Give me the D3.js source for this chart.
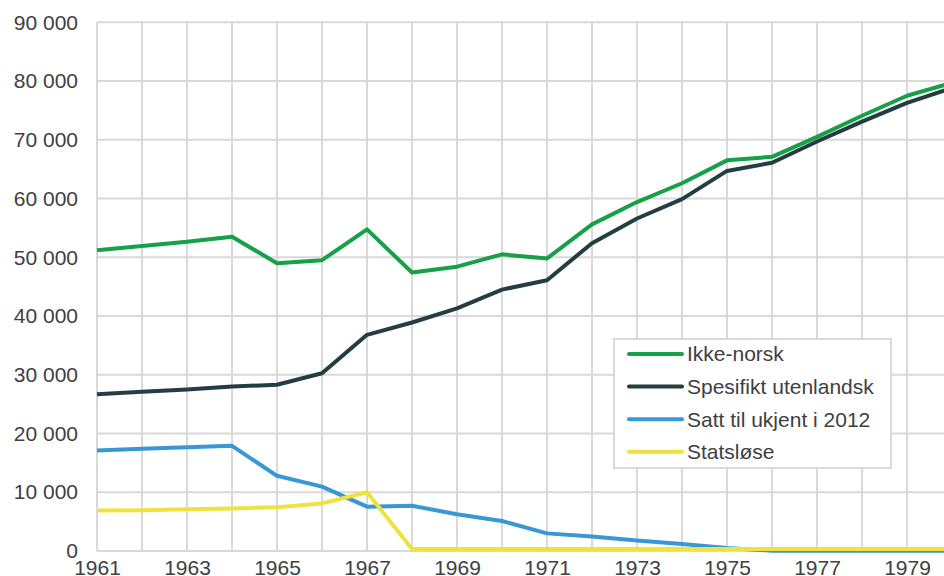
<!DOCTYPE html>
<html>
<head>
<meta charset="utf-8">
<script src="https://cdn.jsdelivr.net/npm/d3@7"></script>
<style>
  body { margin: 0; background: #fff; }
  svg { display: block; font-family: "Liberation Sans", Arial, sans-serif; }
</style>
</head>
<body>
<svg width="944" height="576"></svg>
<script>
// data
var years = [1961, 1962, 1963, 1964, 1965, 1966, 1967, 1968, 1969, 1970,
             1971, 1972, 1973, 1974, 1975, 1976, 1977, 1978, 1979, 1980];
var ikkeNorsk = [51200, 51900, 52650, 53500, 49000, 49500, 54750, 47400, 48400, 50500,
                 49800, 55600, 59400, 62600, 66500, 67100, 70500, 74100, 77500, 79700];
var spesifikt = [26700, 27100, 27500, 28000, 28300, 30250, 36800, 38900, 41300, 44500,
                 46100, 52400, 56600, 59900, 64700, 66100, 69700, 73100, 76300, 78800];
var ukjent = [17100, 17400, 17650, 17900, 12800, 10950, 7550, 7700, 6250, 5100,
              3000, 2450, 1800, 1200, 500, 50, 50, 50, 50, 50];
var statslose = [6900, 6950, 7100, 7250, 7450, 8100, 10000, 350, 350, 350,
                 350, 350, 350, 350, 350, 350, 350, 350, 350, 350];
var seriesNames = ["Ikke-norsk", "Spesifikt utenlandsk", "Satt til ukjent i 2012", "Statsløse"];
var seriesColors = ["#16a047", "#233d42", "#3898d6", "#f0e23e"];
var yTicks = [0, 10000, 20000, 30000, 40000, 50000, 60000, 70000, 80000, 90000];
var xTicks = [1961, 1963, 1965, 1967, 1969, 1971, 1973, 1975, 1977, 1979];

var allSeries = [ikkeNorsk, spesifikt, ukjent, statslose];

var svg = d3.select("svg");

var x = d3.scaleLinear().domain([1961, 1980]).range([97, 952]);
var y = d3.scaleLinear().domain([0, 90000]).range([551, 22.3]);

var fmt = function(v) { return d3.format(",")(v).replace(/,/g, " "); };

// grid
var grid = svg.append("g");
grid.selectAll("line.h")
  .data(yTicks)
  .enter()
  .append("line")
  .attr("x1", x(1961)).attr("x2", x(1980))
  .attr("y1", function(d) { return y(d); })
  .attr("y2", function(d) { return y(d); })
  .attr("stroke", "#d9d9d9")
  .attr("stroke-width", 2);
grid.selectAll("line.v")
  .data(years)
  .enter()
  .append("line")
  .attr("x1", function(d) { return x(d); })
  .attr("x2", function(d) { return x(d); })
  .attr("y1", y(90000)).attr("y2", y(0))
  .attr("stroke", "#d9d9d9")
  .attr("stroke-width", 2);

// axes
var yAxis = svg.append("g")
  .attr("transform", "translate(97,0)")
  .call(d3.axisLeft(y).tickValues(yTicks).tickFormat(fmt).tickSize(0).tickPadding(19));
yAxis.select(".domain").remove();
yAxis.selectAll("text")
  .attr("fill", "#404040")
  .style("font-size", "21px")
  .style("font-family", "Liberation Sans, Arial, sans-serif");

var xAxis = svg.append("g")
  .attr("transform", "translate(0," + y(0) + ")")
  .call(d3.axisBottom(x).tickValues(xTicks).tickFormat(d3.format("d")).tickSize(0).tickPadding(9));
xAxis.select(".domain").remove();
xAxis.selectAll("text")
  .attr("fill", "#404040")
  .style("font-size", "21px")
  .style("font-family", "Liberation Sans, Arial, sans-serif");

// lines
var line = d3.line()
  .x(function(d, i) { return x(years[i]); })
  .y(function(d) { return y(d); });

svg.append("g")
  .selectAll("path")
  .data(allSeries)
  .enter()
  .append("path")
  .attr("d", line)
  .attr("fill", "none")
  .attr("stroke", function(d, i) { return seriesColors[i]; })
  .attr("stroke-width", 4)
  .attr("stroke-linejoin", "round");

// legend
var legend = svg.append("g").attr("transform", "translate(614,339)");
legend.append("rect")
  .attr("width", 277).attr("height", 129)
  .attr("fill", "#fff")
  .attr("stroke", "#d9d9d9")
  .attr("stroke-width", 2);
var items = legend.selectAll("g.item")
  .data(seriesNames)
  .enter()
  .append("g")
  .attr("transform", function(d, i) { return "translate(0," + (15 + i * 32.6) + ")"; });
items.append("line")
  .attr("x1", 15).attr("x2", 68)
  .attr("stroke", function(d, i) { return seriesColors[i]; })
  .attr("stroke-width", 4)
  .attr("stroke-linecap", "round");
items.append("text")
  .attr("x", 73)
  .attr("dy", "0.35em")
  .attr("fill", "#404040")
  .style("font-size", "21px")
  .text(function(d) { return d; });
</script>
</body>
</html>
